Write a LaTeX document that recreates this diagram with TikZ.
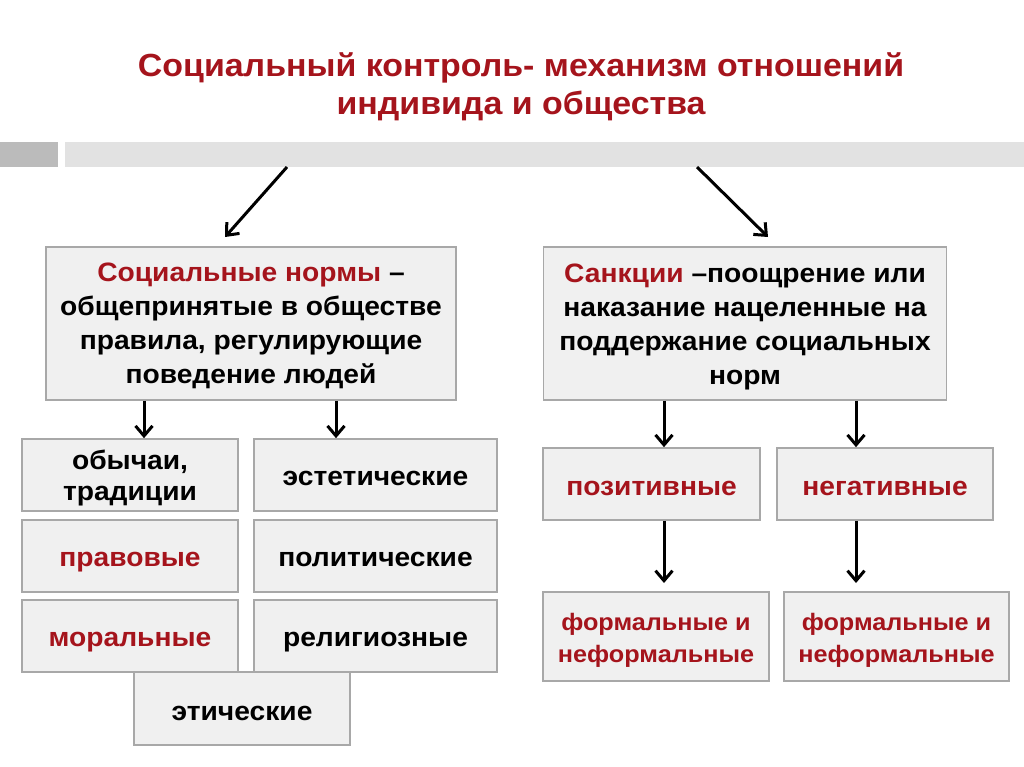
\documentclass[tikz,border=0pt]{standalone}
\usepackage{fontspec}
\setmainfont{Liberation Sans}[FakeStretch=1.06]
\usetikzlibrary{arrows.meta}
\definecolor{tred}{HTML}{A5141C}
\definecolor{boxfill}{HTML}{F0F0F0}
\definecolor{boxline}{HTML}{A8A8A8}
\definecolor{bardark}{HTML}{BBBBBB}
\definecolor{barlight}{HTML}{E2E2E2}
\tikzset{
  box/.style={draw=boxline, line width=1.6pt, fill=boxfill, inner sep=0pt, align=center,
    font=\fontsize{26.6}{35}\selectfont\bfseries},
  onebox/.style={box, text height=20.5pt, text depth=0pt},
  txt/.style={align=center, inner sep=0pt, anchor=base, font=\fontsize{26.6}{35}\selectfont\bfseries},
  arr/.style={line width=3pt, -{Straight Barb[length=10pt,width=17pt,line width=3pt]}},
}
\begin{document}
\begin{tikzpicture}[x=1pt,y=-1pt]
\useasboundingbox (0,0) rectangle (1024,767);
\fill[white] (0,0) rectangle (1024,767);
% title (base anchor = baseline of last line)
\node[txt, text=tred, font=\fontsize{32}{38.5}\selectfont\bfseries] (title) at (521,115)
  {Социальный контроль- механизм отношений\\индивида и общества};
% bar
\fill[bardark] (0,142) rectangle (58,167);
\fill[barlight] (65,142) rectangle (1024,167);
\coordinate (sL) at (287,167);
\coordinate (sR) at (697,167);
% main boxes
\node[box, minimum width=410pt, minimum height=153pt] (norms) at (251,323.5) {};
\node[txt, font=\fontsize{26.6}{34}\selectfont\bfseries] (normst) at (251,383.5)
  {\textcolor{tred}{Социальные нормы} –\\общепринятые в обществе\\правила, регулирующие\\поведение людей};
\node[box, minimum width=403pt, minimum height=153pt] (sanc) at (745,323.5) {};
\node[txt, font=\fontsize{26.6}{34}\selectfont\bfseries] (senct) at (745,384.5)
  {\textcolor{tred}{Санкции} –поощрение или\\наказание нацеленные на\\поддержание социальных\\норм};
\draw[arr] (sL) -- (225,237);
\draw[arr] (sR) -- (768,237);
% left grid
\node[box, minimum width=216pt, minimum height=72pt] (obych) at (130,475) {};
\node[txt, font=\fontsize{26.6}{31}\selectfont\bfseries] (obycht) at (130,500) {обычаи,\\традиции};
\node[onebox, minimum width=243pt, minimum height=72pt] (estet) at (375.5,475) {эстетические};
\node[onebox, minimum width=216pt, minimum height=72pt, text=tred] (prav) at (130,556) {правовые};
\node[onebox, minimum width=243pt, minimum height=72pt] (polit) at (375.5,556) {политические};
\node[onebox, minimum width=216pt, minimum height=72pt, text=tred] (moral) at (130,636) {моральные};
\node[onebox, minimum width=243pt, minimum height=72pt] (relig) at (375.5,636) {религиозные};
\node[onebox, minimum width=216pt, minimum height=73pt, text height=23pt] (etich) at (242,708.5) {этические};
\draw[arr] (norms.south -| 144,0) -- (obych.north -| 144,0);
\draw[arr] (norms.south -| 336,0) -- (estet.north -| 336,0);
% right side
\node[onebox, minimum width=217pt, minimum height=72pt, text=tred, text height=22pt] (pos) at (651.5,484) {позитивные};
\node[onebox, minimum width=216pt, minimum height=72pt, text=tred, text height=22pt] (neg) at (885,484) {негативные};
\node[box, minimum width=226pt, minimum height=89pt] (f1) at (656,636.5) {};
\node[txt, text=tred, font=\fontsize{23.8}{32}\selectfont\bfseries] (f1t) at (656,662) {формальные и\\неформальные};
\node[box, minimum width=225pt, minimum height=89pt] (f2) at (896.5,636.5) {};
\node[txt, text=tred, font=\fontsize{23.8}{32}\selectfont\bfseries] (f2t) at (896.5,662) {формальные и\\неформальные};
\draw[arr] (sanc.south -| 664,0) -- (pos.north -| 664,0);
\draw[arr] (sanc.south -| 856,0) -- (neg.north -| 856,0);
\draw[arr] (pos.south -| 664,0) -- (664,583);
\draw[arr] (neg.south -| 856,0) -- (856,583);
\end{tikzpicture}
\end{document}
